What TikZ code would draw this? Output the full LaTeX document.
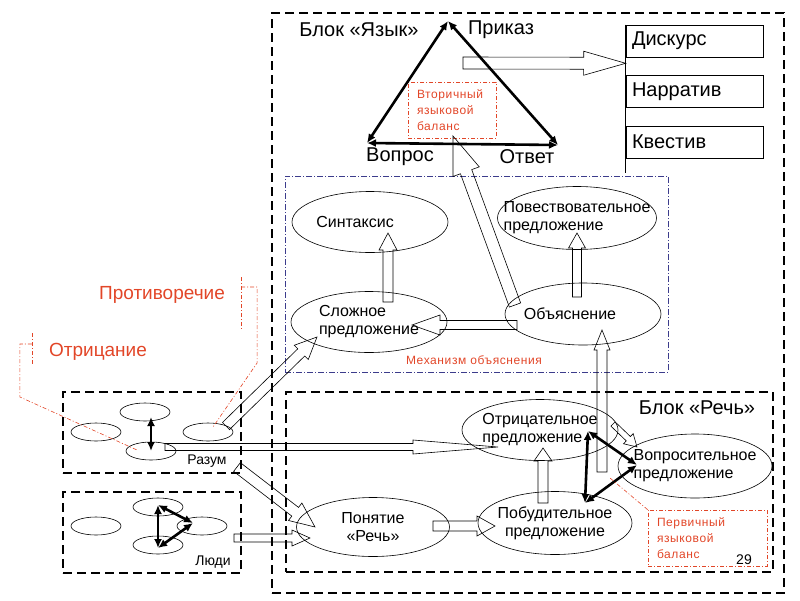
\documentclass[tikz,border=0pt]{standalone}
\usepackage{fontspec}
\setmainfont{Liberation Sans}
\newfontfamily\spaced[LetterSpace=5]{Liberation Sans}
\usetikzlibrary{shapes.geometric, arrows.meta, calc, positioning}

\definecolor{notered}{RGB}{226,70,40}
\definecolor{mechblue}{RGB}{60,60,140}

\begin{document}
\begin{tikzpicture}[
        x=1pt, y=-1pt,
        % --- Styles ---
        blockbox/.style={rectangle, draw, line width=2pt, dash pattern=on 9pt off 5pt, inner sep=0pt},
        mechbox/.style={rectangle, draw=mechblue, line width=0.6pt, dash pattern=on 6pt off 2pt on 1pt off 2pt, inner sep=0pt},
        notebox/.style={rectangle, draw=notered, line width=0.6pt, dash pattern=on 4pt off 2pt on 1pt off 2pt, text=notered, align=left, font=\spaced\fontsize{12}{16}\selectfont, inner xsep=9pt, minimum height=56pt},
        idea/.style={ellipse, draw, line width=0.6pt, inner xsep=-20pt, inner ysep=0pt, align=center, font=\fontsize{16}{18}\selectfont, minimum width=156pt, minimum height=61pt},
        minor/.style={ellipse, draw, line width=0.6pt, inner sep=0pt, minimum width=50pt, minimum height=18pt},
        stackbox/.style={rectangle, draw, line width=0.6pt, minimum height=32pt, text width=125pt, inner xsep=6pt, align=left, font=\fontsize{20}{22}\selectfont},
        biglabel/.style={font=\fontsize{20}{22}\selectfont, inner sep=0pt},
        redlabel/.style={font=\fontsize{19}{22}\selectfont, text=notered, inner sep=0pt},
        smalllabel/.style={font=\fontsize{14}{16}\selectfont, inner sep=0pt},
        % --- Line Styles ---
        balance/.style={line width=2.6pt, {Latex[length=9pt,width=8pt]}-{Latex[length=9pt,width=8pt]}},
        callout/.style={draw=notered, line width=0.6pt, dash pattern=on 4pt off 2pt on 1pt off 2pt},
        hollow/.style n args={3}{line width=0.6pt, line join=miter, to path={
            let \p1=(\tikztostart), \p2=(\tikztotarget),
                \n1={atan2(\y2-\y1,\x2-\x1)}, \n2={veclen(\x2-\x1,\y2-\y1)} in
            ([shift={(\p1)},rotate=\n1]0pt,-#1)
            -- ([shift={(\p1)},rotate=\n1]{\n2-#3},-#1)
            -- ([shift={(\p1)},rotate=\n1]{\n2-#3},-#2)
            -- ([shift={(\p1)},rotate=\n1]{\n2},0pt)
            -- ([shift={(\p1)},rotate=\n1]{\n2-#3},#2)
            -- ([shift={(\p1)},rotate=\n1]{\n2-#3},#1)
            -- ([shift={(\p1)},rotate=\n1]0pt,#1)
            -- cycle}}
    ]
        \useasboundingbox (0,0) rectangle (800,600);

        % --- Blocks ---
        \node[blockbox, minimum width=512pt, minimum height=580pt] (yazyk) at (528,303) {};
        \node[blockbox, minimum width=487pt, minimum height=180pt] (rech) at (529.5,482) {};
        \node[blockbox, minimum width=178pt, minimum height=81pt] (razbox) at (152,432.5) {};
        \node[blockbox, minimum width=178pt, minimum height=81pt] (ludibox) at (152,532.5) {};
        \node[mechbox, minimum width=383pt, minimum height=196pt] (mech) at (476.5,274) {};

        \node[biglabel] (yazyklbl) at (359,30) {Блок «Язык»};
        \node[biglabel] (rechlbl) at (697,408) {Блок «Речь»};
        \node[text=notered, font=\spaced\fontsize{12}{14}\selectfont] (mechlbl) at (474,360) {Механизм объяснения};

        % --- Secondary balance (top triangle) ---
        \coordinate (prikaz) at (448,21);
        \coordinate (vopros) at (367,143);
        \coordinate (otvet) at (558,145);
        \node[biglabel] (prikazlbl) at (501,30) {Приказ};
        \node[biglabel] (voproslbl) at (400,157) {Вопрос};
        \node[biglabel] (otvetlbl) at (527,157) {Ответ};
        \node[notebox, text width=70pt] (vtor) at (452,110) {Вторичный\\языковой\\баланс};

        \node[stackbox] (disk) at (694.5,41) {Дискурс};
        \node[stackbox, below=18pt of disk] (narr) {Нарратив};
        \node[stackbox, below=18pt of narr] (kvest) {Квестив};
        \draw[line width=0.6pt] (disk.north west) -- ([yshift=-14pt]kvest.south west);

        % --- Mechanism ---
        \node[idea] (sint) at (370,222) {Синтаксис\hspace*{30pt}};
        \node[idea, align=left, minimum width=159pt, minimum height=63pt] (povest) at (577,218) {Повествовательное\\предложение};
        \node[idea, align=left] (slozh) at (369,322) {Сложное\\предложение};
        \node[idea, minimum height=62pt] (obyas) at (583,314) {Объяснение\hspace*{26pt}};

        % --- Speech block ---
        \node[idea, align=left] (otric) at (540,430) {Отрицательное\\предложение};
        \node[idea, align=left, minimum width=154pt, minimum height=64pt] (vopr) at (695,466) {Вопросительное\\предложение};
        \node[idea, minimum width=153pt, minimum height=59pt] (ponyat) at (373,527) {Понятие\\«Речь»};
        \node[idea, minimum width=154pt, minimum height=63pt] (pobud) at (555,523) {Побудительное\\предложение};
        \coordinate (pa) at (588,431);
        \coordinate (pb) at (637,465);
        \coordinate (pc) at (585,503);
        \node[notebox, text width=101pt] (perv) at (707.5,538) {Первичный\\языковой\\баланс};
        \node[smalllabel] (pagenum) at (744,560) {29};

        % --- Reason and people ---
        \node[minor] (r1) at (145,412) {};
        \node[minor] (r2) at (96,432) {};
        \node[minor] (r3) at (208,432) {};
        \node[minor] (r4) at (151,451) {};
        \node[smalllabel] (razumlbl) at (207,461) {Разум};
        \node[minor] (l1) at (158,507) {};
        \node[minor] (l2) at (96,526) {};
        \node[minor] (l3) at (202,526) {};
        \node[minor] (l4) at (158,545) {};
        \node[smalllabel] (ludilbl) at (213,562) {Люди};
        \coordinate (lt) at ([yshift=2pt]l1.center);
        \coordinate (lr) at ([xshift=-9pt,yshift=3pt]l3.center);
        \coordinate (lb) at ([yshift=-3pt]l4.center);

        \node[redlabel] (protiv) at (162,295) {Противоречие};
        \node[redlabel] (otrlbl) at (98,352) {Отрицание};

        % --- Balances ---
        \draw[balance] (vopros) -- (prikaz);
        \draw[balance] (prikaz) -- (otvet);
        \draw[balance] (otvet) -- (vopros);
        \draw[balance] (pa) -- (pb);
        \draw[balance] (pb) -- (pc);
        \draw[balance] (pc) -- (pa);
        \draw[balance] (lt) -- (lr);
        \draw[balance] (lr) -- (lb);
        \draw[balance] (lb) -- (lt);
        \draw[balance] ([xshift=6pt,yshift=-5pt]r1.center) -- (r4.center);

        % --- Hollow arrows ---
        \draw[hollow={5pt}{9pt}{17pt}] ([xshift=19pt,yshift=20pt]slozh.center) to ([xshift=18pt,yshift=-11pt]sint.center);
        \draw[hollow={4.5pt}{8.5pt}{15pt}] ([xshift=-6pt,yshift=17pt]obyas.center) to ([yshift=-15pt]povest.center);
        \draw[hollow={4.5pt}{10pt}{28pt}] ([xshift=-66pt,yshift=-11pt]obyas.center) to ([xshift=43pt,yshift=-3pt]slozh.center);
        \draw[hollow={6pt}{14pt}{38pt}] ([xshift=-68pt,yshift=9pt]obyas.center) to ([xshift=1pt,yshift=-26pt]vtor.center);
        \draw[hollow={6pt}{12pt}{42pt}] ([xshift=15pt,yshift=-42pt]prikaz) to ([yshift=-6pt]disk.south west);
        \draw[hollow={5pt}{10pt}{22pt}] ([xshift=18pt,yshift=6pt]r3.center) to ([xshift=-52pt,yshift=-15pt]slozh.center);
        \draw[hollow={3.5pt}{7pt}{85pt}] ([xshift=14pt,yshift=4pt]r4.center) to ([xshift=-42pt,yshift=-17pt]otric.center);
        \draw[hollow={5.5pt}{11pt}{25pt}] ([xshift=-5pt,yshift=7pt]razbox.south east) to ([xshift=-58pt]ponyat.center);
        \draw[hollow={4pt}{8pt}{18pt}] ([xshift=-8pt,yshift=-5.5pt]ludibox.east) to ([xshift=-63pt,yshift=-11pt]ponyat.center);
        \draw[hollow={5pt}{10pt}{18pt}] ([xshift=60pt,yshift=1pt]ponyat.center) to ([xshift=-60pt,yshift=-3pt]pobud.center);
        \draw[hollow={5pt}{9pt}{13pt}] ([xshift=-12pt,yshift=20pt]pobud.center) to ([xshift=3pt,yshift=-18pt]otric.center);
        \draw[hollow={5pt}{8pt}{20pt}] ([xshift=-35pt,yshift=-7pt]pb) to ([xshift=19pt,yshift=-16pt]obyas.center);
        \draw[hollow={3pt}{7pt}{12pt}] ([xshift=73pt,yshift=6pt]otric.center) to ([xshift=-58pt,yshift=19pt]vopr.center);

        % --- Callouts ---
        \draw[callout] ([xshift=16pt,yshift=18pt]protiv.east) -- ([xshift=16pt,yshift=-35pt]protiv.east);
        \draw[callout] ([xshift=16pt,yshift=8pt]protiv.east) -| ([xshift=32pt,yshift=-68pt]protiv.east) -- ([xshift=5pt,yshift=5pt]r3.center);
        \draw[callout] ([xshift=-17pt,yshift=19pt]otrlbl.west) -- ([xshift=-17pt,yshift=-13pt]otrlbl.west);
        \draw[callout] ([xshift=-17pt,yshift=8pt]otrlbl.west) -| ([xshift=-29pt,yshift=-45pt]otrlbl.west) -- ([xshift=-14pt,yshift=1pt]r4.center);
        \draw[callout] (perv.north west) -- ([xshift=-27pt,yshift=-13pt]pb);

    \end{tikzpicture}
\end{document}
